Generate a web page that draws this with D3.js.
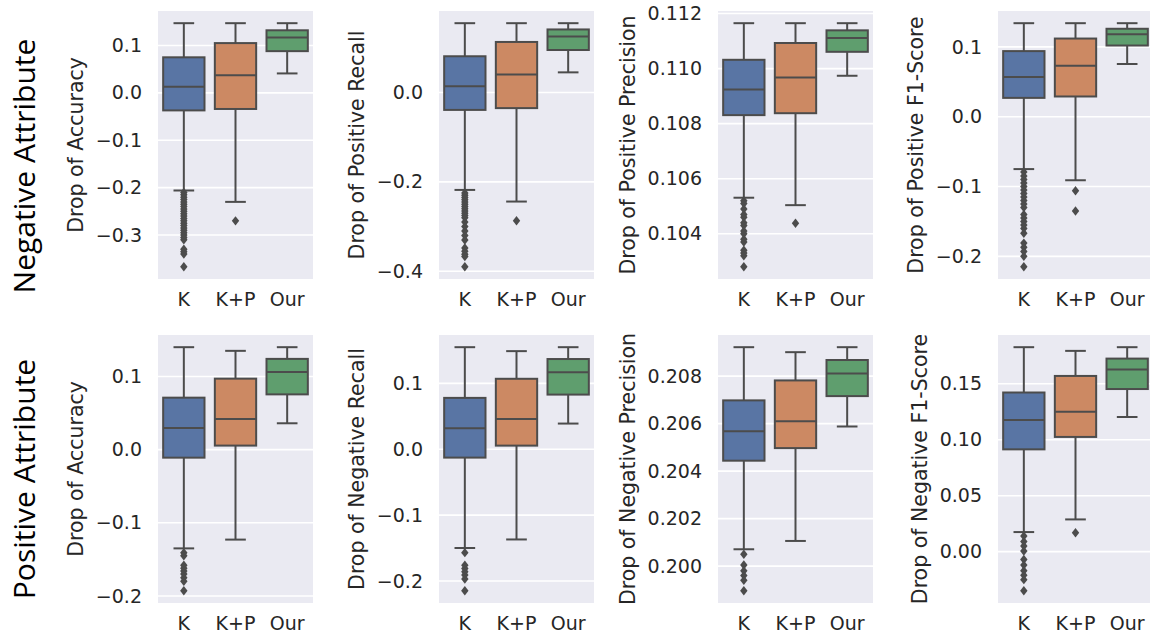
<!DOCTYPE html>
<html>
<head>
<meta charset="utf-8">
<script src="https://cdn.jsdelivr.net/npm/d3@7"></script>
<style>
  body { margin: 0; background: #fff; }
  text { font-family: "DejaVu Sans", sans-serif; fill: #262626; }
  .tick text { font-size: 19px; }
  .ylabel { font-size: 20.5px; }
  .rowlabel { font-family: "Open Sans", "Noto Sans", sans-serif; font-size: 30px; fill: #000; }
</style>
</head>
<body>
<svg id="chart" width="1150" height="640"></svg>
<script>
// categories and labels
var groups = ["K", "K+P", "Our"];
var groupColors = ["#5975a4", "#cc8963", "#5f9e6e"];
var rowLabels = ["Negative Attribute", "Positive Attribute"];
var yLabels = ["Drop of Accuracy", "Drop of Positive Recall", "Drop of Positive Precision", "Drop of Positive F1-Score",
               "Drop of Accuracy", "Drop of Negative Recall", "Drop of Negative Precision", "Drop of Negative F1-Score"];

// tick values / formats per panel
var tickVals = [
  [-0.3, -0.2, -0.1, 0.0, 0.1],
  [-0.4, -0.2, 0.0],
  [0.104, 0.106, 0.108, 0.110, 0.112],
  [-0.2, -0.1, 0.0, 0.1],
  [-0.2, -0.1, 0.0, 0.1],
  [-0.2, -0.1, 0.0, 0.1],
  [0.200, 0.202, 0.204, 0.206, 0.208],
  [0.00, 0.05, 0.10, 0.15]
];
var tickFmts = [".1f", ".1f", ".3f", ".1f", ".1f", ".1f", ".3f", ".2f"];

// box stats: [whisker low, q1, median, q3, whisker high] for K, K+P, Our
var statsNegAcc = [[-0.206, -0.037, 0.013, 0.075, 0.147], [-0.230, -0.034, 0.037, 0.105, 0.147], [0.041, 0.088, 0.117, 0.132, 0.147]];
var statsNegRec = [[-0.218, -0.039, 0.014, 0.081, 0.155], [-0.244, -0.035, 0.040, 0.113, 0.155], [0.045, 0.095, 0.125, 0.141, 0.155]];
var statsNegPrec = [[0.10531, 0.10831, 0.10924, 0.11032, 0.11165], [0.10504, 0.10838, 0.10968, 0.11093, 0.11165], [0.10974, 0.11061, 0.11111, 0.11139, 0.11165]];
var statsNegF1 = [[-0.075, 0.027, 0.057, 0.094, 0.134], [-0.091, 0.029, 0.073, 0.112, 0.134], [0.0755, 0.102, 0.118, 0.126, 0.134]];
var statsPosAcc = [[-0.135, -0.011, 0.0296, 0.071, 0.140], [-0.123, 0.0055, 0.042, 0.097, 0.135], [0.036, 0.0755, 0.106, 0.124, 0.140]];
var statsPosRec = [[-0.150, -0.0127, 0.032, 0.078, 0.155], [-0.137, 0.0055, 0.046, 0.107, 0.149], [0.039, 0.083, 0.117, 0.137, 0.155]];
var statsPosPrec = [[0.20071, 0.20444, 0.20568, 0.20698, 0.20922], [0.20106, 0.20497, 0.2061, 0.20782, 0.20901], [0.20588, 0.20716, 0.20811, 0.20868, 0.20922]];
var statsPosF1 = [[0.0175, 0.0914, 0.1176, 0.1422, 0.1827], [0.0288, 0.1025, 0.125, 0.157, 0.1794], [0.1203, 0.1453, 0.1627, 0.1725, 0.1827]];

// outliers for K, K+P, Our
var fliersNegAcc = [[-0.21, -0.215, -0.22, -0.225, -0.23, -0.235, -0.24, -0.245, -0.25, -0.255, -0.26, -0.265, -0.27, -0.275, -0.28, -0.285, -0.29, -0.295, -0.30, -0.305, -0.31, -0.33, -0.335, -0.34, -0.367], [-0.270], []];
var fliersNegRec = [[-0.225, -0.23, -0.235, -0.24, -0.245, -0.25, -0.255, -0.26, -0.265, -0.27, -0.275, -0.28, -0.29, -0.30, -0.31, -0.32, -0.33, -0.348, -0.355, -0.362, -0.367, -0.39], [-0.287], []];
var fliersNegPrec = [[0.1052, 0.1051, 0.1049, 0.1047, 0.1046, 0.1044, 0.1043, 0.1041, 0.1040, 0.1038, 0.1037, 0.1034, 0.1033, 0.1032, 0.1028], [0.10438], []];
var fliersNegF1 = [[-0.079, -0.085, -0.09, -0.095, -0.10, -0.105, -0.11, -0.115, -0.12, -0.125, -0.13, -0.14, -0.145, -0.15, -0.155, -0.16, -0.167, -0.181, -0.187, -0.193, -0.200, -0.215], [-0.106, -0.135], []];
var fliersPosAcc = [[-0.141, -0.145, -0.158, -0.162, -0.166, -0.170, -0.175, -0.180, -0.193], [], []];
var fliersPosRec = [[-0.157, -0.176, -0.181, -0.186, -0.191, -0.197, -0.215], [], []];
var fliersPosPrec = [[0.2005, 0.20005, 0.1998, 0.1996, 0.1994, 0.19896], [], []];
var fliersPosF1 = [[0.014, 0.009, 0.005, 0.0005, -0.007, -0.012, -0.017, -0.021, -0.025, -0.035], [0.0169], []];

var statsList = [statsNegAcc, statsNegRec, statsNegPrec, statsNegF1, statsPosAcc, statsPosRec, statsPosPrec, statsPosF1];
var fliersList = [fliersNegAcc, fliersNegRec, fliersNegPrec, fliersNegF1, fliersPosAcc, fliersPosRec, fliersPosPrec, fliersPosF1];

// layout
var colLeft = [158, 439, 718, 998];
var rowTop = [11, 335];
var rowLabelShift = [21, 10];
var panelW = 155, panelH = 268;
var lineColor = "#4c4c4c";

var svg = d3.select("#chart");

for (var i = 0; i < 8; i++) {
  drawPanel(i);
}

// row labels
rowLabels.forEach(function(d, r) {
  svg.append("text")
     .attr("class", "rowlabel")
     .attr("transform", "translate(23," + (rowTop[r] + panelH / 2 + rowLabelShift[r]) + ") rotate(-90)")
     .attr("text-anchor", "middle")
     .attr("dominant-baseline", "central")
     .text(d);
});

function drawPanel(i) {
  var row = Math.floor(i / 4), col = i % 4;
  var stats = statsList[i], fliers = fliersList[i];
  var all = d3.merge(stats.concat(fliers));
  var ext = d3.extent(all);
  var pad = (ext[1] - ext[0]) * 0.05;

  var y = d3.scaleLinear().domain([ext[0] - pad, ext[1] + pad]).range([panelH, 0]);
  var x = d3.scaleBand().domain(groups).range([0, panelW]);
  var boxW = x.bandwidth() * 0.8;

  var g = svg.append("g")
             .attr("transform", "translate(" + colLeft[col] + "," + rowTop[row] + ")");

  // background
  g.append("rect")
   .attr("width", panelW)
   .attr("height", panelH)
   .attr("fill", "#eaeaf2");

  // grid
  g.selectAll("line.grid")
   .data(tickVals[i])
   .enter()
   .append("line")
   .attr("class", "grid")
   .attr("x1", 0).attr("x2", panelW)
   .attr("y1", function(d) { return y(d); })
   .attr("y2", function(d) { return y(d); })
   .attr("stroke", "#fff")
   .attr("stroke-width", 1.6);

  // y axis
  var yAxis = g.append("g")
               .call(d3.axisLeft(y).tickValues(tickVals[i]).tickFormat(d3.format(tickFmts[i])).tickSize(0).tickPadding(16));
  yAxis.select(".domain").remove();

  // x axis
  var xAxis = g.append("g")
               .attr("transform", "translate(0," + panelH + ")")
               .call(d3.axisBottom(x).tickSize(0).tickPadding(14));
  xAxis.select(".domain").remove();

  // y label
  var bb = yAxis.node().getBBox();
  g.append("text")
   .attr("class", "ylabel")
   .attr("transform", "translate(" + (bb.x - 20) + "," + (panelH / 2) + ") rotate(-90)")
   .attr("text-anchor", "middle")
   .attr("dominant-baseline", "central")
   .text(yLabels[i]);

  // boxes
  var boxes = g.selectAll("g.box")
               .data(stats)
               .enter()
               .append("g")
               .attr("class", "box")
               .attr("transform", function(d, j) { return "translate(" + (x(groups[j]) + x.bandwidth() / 2) + ",0)"; });

  // whiskers
  boxes.append("line")
       .attr("x1", 0).attr("x2", 0)
       .attr("y1", function(d) { return y(d[3]); })
       .attr("y2", function(d) { return y(d[4]); })
       .attr("stroke", lineColor).attr("stroke-width", 2);
  boxes.append("line")
       .attr("x1", 0).attr("x2", 0)
       .attr("y1", function(d) { return y(d[1]); })
       .attr("y2", function(d) { return y(d[0]); })
       .attr("stroke", lineColor).attr("stroke-width", 2);
  // caps
  boxes.append("line")
       .attr("x1", -boxW / 4).attr("x2", boxW / 4)
       .attr("y1", function(d) { return y(d[4]); })
       .attr("y2", function(d) { return y(d[4]); })
       .attr("stroke", lineColor).attr("stroke-width", 2);
  boxes.append("line")
       .attr("x1", -boxW / 4).attr("x2", boxW / 4)
       .attr("y1", function(d) { return y(d[0]); })
       .attr("y2", function(d) { return y(d[0]); })
       .attr("stroke", lineColor).attr("stroke-width", 2);
  // box
  boxes.append("rect")
       .attr("x", -boxW / 2)
       .attr("width", boxW)
       .attr("y", function(d) { return y(d[3]); })
       .attr("height", function(d) { return y(d[1]) - y(d[3]); })
       .attr("fill", function(d, j) { return groupColors[j]; })
       .attr("stroke", lineColor).attr("stroke-width", 2);
  // median
  boxes.append("line")
       .attr("x1", -boxW / 2).attr("x2", boxW / 2)
       .attr("y1", function(d) { return y(d[2]); })
       .attr("y2", function(d) { return y(d[2]); })
       .attr("stroke", lineColor).attr("stroke-width", 2);

  // outliers (thin diamonds)
  fliers.forEach(function(list, j) {
    var cx = x(groups[j]) + x.bandwidth() / 2;
    g.selectAll("path.flier" + j)
     .data(list)
     .enter()
     .append("path")
     .attr("class", "flier" + j)
     .attr("d", function(d) {
       var cy = y(d);
       return "M" + cx + "," + (cy - 4.7) + "L" + (cx + 3.7) + "," + cy + "L" + cx + "," + (cy + 4.7) + "L" + (cx - 3.7) + "," + cy + "Z";
     })
     .attr("fill", lineColor);
  });
}
</script>
</body>
</html>
